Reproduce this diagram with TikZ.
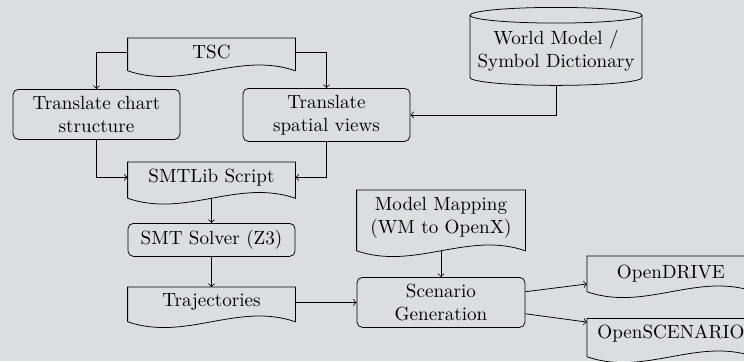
\documentclass[tikz,border=0pt]{standalone}
\usetikzlibrary{shapes.geometric,calc}
\definecolor{bg}{RGB}{220,221,223}
\newcommand{\pxu}{0.5236pt}
\tikzset{
  line/.style={draw=black, line width=0.4pt},
  arr/.style={line, ->},
  rbox/.style={draw, rounded corners=2.8pt, fill=bg, align=center, minimum width=167*\pxu, inner sep=0pt},
  docbox/.style={align=center, minimum width=167*\pxu, inner sep=0pt},
  db/.style={draw, cylinder, shape border rotate=90, aspect=0.1, align=center, fill=bg, minimum width=172*\pxu, minimum height=78*\pxu, inner sep=0pt}
}
% #1 node name, #2 extra depth (px) of the wavy bottom below the node's south edge
\newcommand{\docwave}[2]{%
  \draw[line] ([yshift=-#2*\pxu]#1.south west) -- (#1.north west) -- (#1.north east) -- ([yshift=-#2*\pxu]#1.south east)
    .. controls +(-58,-20) and +(58,20) .. ([yshift=-#2*\pxu]#1.south west);}
\begin{document}
\begin{tikzpicture}[x=0.5236pt, y=-0.5236pt]
\fill[bg] (0,0) rectangle (744,361);
\useasboundingbox (0,0) rectangle (744,361);

% document-like nodes
\node[docbox, minimum height=28*\pxu, anchor=north] (tsc) at (211.5,38) {TSC};
\node[docbox, minimum height=30*\pxu, anchor=north] (smt) at (211.5,162) {SMTLib Script};
\node[docbox, minimum height=30*\pxu, anchor=north] (traj) at (211.5,287) {Trajectories};
\node[docbox, minimum width=168*\pxu, minimum height=54*\pxu, anchor=north] (mm) at (441,190) {Model Mapping\\(WM to OpenX)};
\node[docbox, minimum height=34*\pxu, anchor=north west] (od) at (587,256) {OpenDRIVE};
\node[docbox, minimum height=29*\pxu, anchor=north west] (os) at (587,318.5) {OpenSCENARIO};
\docwave{tsc}{4}
\docwave{smt}{5.5}
\docwave{traj}{4}
\docwave{mm}{6}
\docwave{od}{1}
\docwave{os}{8.5}

% rounded boxes
\node[rbox, minimum height=50*\pxu, anchor=north] (chart) at (96.5,89) {Translate chart\\structure};
\node[rbox, minimum height=53*\pxu, anchor=north] (spatial) at (326.5,88) {Translate\\spatial views};
\node[rbox, minimum height=33*\pxu, anchor=north] (solver) at (211.5,223) {SMT Solver (Z3)};
\node[rbox, minimum width=168*\pxu, minimum height=50*\pxu, anchor=north] (scen) at (441,277) {Scenario\\Generation};

% database
\node[db, anchor=north] (wm) at (556,7) {World Model /\\Symbol Dictionary};

% connectors
\draw[arr] (tsc.west) -| (chart.north);
\draw[arr] (tsc.east) -| (spatial.north);
\draw[arr] (chart.south) |- (smt.west);
\draw[arr] (spatial.south) |- (smt.east);
\draw[arr] (wm.south) |- (spatial.east);
\draw[arr] ([yshift=-5.5*\pxu]smt.south) -- (solver.north);
\draw[arr] (solver.south) -- (traj.north);
\draw[arr] (traj.east) -- (traj.east -| scen.west);
\draw[arr] ([yshift=-6*\pxu]mm.south) -- (scen.north);
\draw[arr] (scen) -- (od);
\draw[arr] (scen) -- (os);
\end{tikzpicture}
\end{document}
